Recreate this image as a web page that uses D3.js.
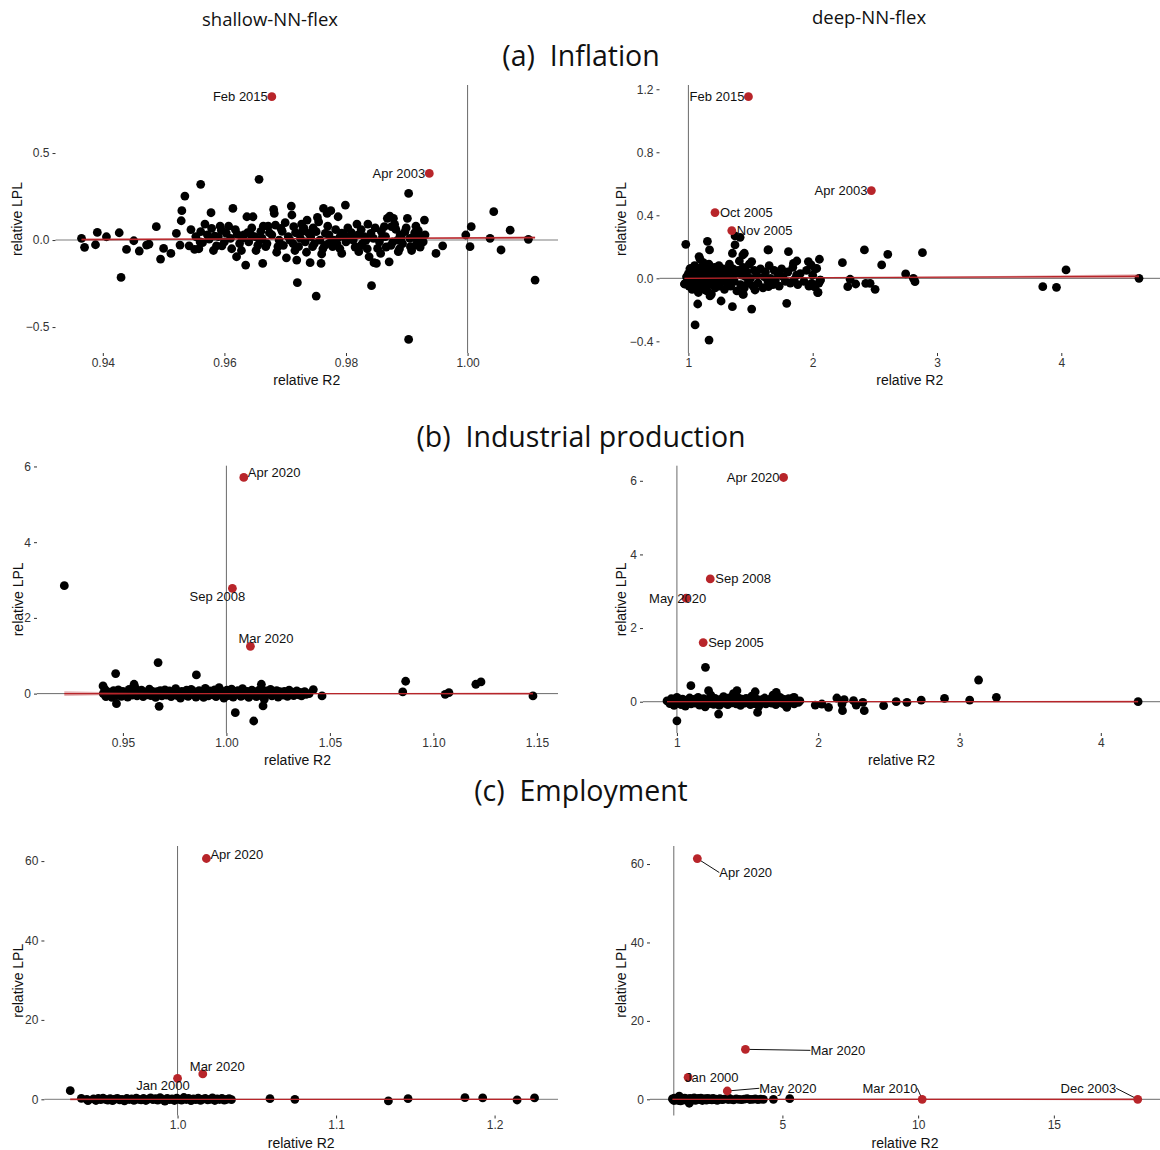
<!DOCTYPE html>
<html><head><meta charset="utf-8">
<script src="https://cdn.jsdelivr.net/npm/d3@7"></script>
<style>body{margin:0;background:#fff}svg{display:block}</style>
</head><body>
<svg id="c" width="1160" height="1150"></svg>
<script>
// ---------------- DATA ----------------
const columnTitles = ["shallow-NN-flex", "deep-NN-flex"];
const rowTitles = ["(a)\u00a0\u00a0Inflation", "(b)\u00a0\u00a0Industrial production", "(c)\u00a0\u00a0Employment"];
const xTitle = "relative R2";
const yTitle = "relative LPL";

// (a) Inflation, shallow-NN-flex: [relative R2, relative LPL]
const inflShallowPts = [
[0.9365,0.01],[0.9370,-0.042],[0.9388,-0.027],[0.9391,0.044],[0.9406,0.019],[0.9427,0.042],[0.9430,-0.215],[0.9439,-0.054],
[0.9451,-0.004],[0.9460,-0.063],[0.9472,-0.029],[0.9476,-0.023],[0.9488,0.077],[0.9495,-0.109],[0.9500,-0.048],[0.9512,-0.077],
[0.9521,0.038],[0.9527,-0.029],[0.9529,0.111],[0.9530,0.169],[0.9535,0.253],[0.9542,-0.033],[0.9551,-0.054],[0.9561,0.320],
[0.9561,0.048],[0.9564,-0.015],[0.9568,0.092],[0.9578,0.157],[0.9579,0.067],[0.9584,0.023],[0.9587,-0.033],[0.9595,0.057],
[0.9596,-0.033],[0.9607,0.080],[0.9614,0.182],[0.9620,-0.096],[0.9621,0.034],[0.9629,0.010],[0.9635,-0.144],[0.9637,0.134],
[0.9638,0.042],[0.9643,0.034],[0.9647,0.134],[0.9657,0.349],[0.9658,0.000],[0.9663,-0.134],[0.9664,0.080],[0.9668,-0.038],
[0.9674,0.042],[0.9681,0.176],[0.9682,0.153],[0.9684,0.086],[0.9688,-0.038],[0.9693,0.067],[0.9702,-0.102],[0.9708,0.000],
[0.9710,0.195],[0.9711,0.144],[0.9714,0.077],[0.9717,0.042],[0.9719,-0.115],[0.9720,-0.245],[0.9722,-0.038],[0.9727,0.092],
[0.9731,0.067],[0.9736,0.115],[0.9739,0.038],[0.9741,-0.130],[0.9745,-0.038],[0.9751,0.048],[0.9751,-0.322],[0.9753,0.130],
[0.9755,0.105],[0.9759,-0.134],[0.9760,-0.080],[0.9763,0.182],[0.9766,0.038],[0.9769,0.153],[0.9772,-0.019],[0.9775,0.169],
[0.9778,-0.038],[0.9787,0.134],[0.9790,0.019],[0.9793,-0.077],[0.9796,0.034],[0.9799,0.201],[0.9806,0.019],[0.9809,0.042],
[0.9818,0.092],[0.9821,-0.067],[0.9824,-0.034],[0.9830,0.019],[0.9836,0.092],[0.9838,-0.096],[0.9841,0.038],[0.9842,-0.262],
[0.9846,-0.130],[0.9850,-0.134],[0.9852,-0.048],[0.9857,-0.077],[0.9860,0.019],[0.9863,0.077],[0.9868,0.125],[0.9871,-0.125],
[0.9872,0.138],[0.9875,0.077],[0.9878,0.125],[0.9882,0.061],[0.9886,-0.067],[0.9889,0.029],[0.9891,0.015],[0.9897,0.048],
[0.9901,0.125],[0.9903,0.268],[0.9903,-0.571],[0.9906,-0.038],[0.9911,0.019],[0.9913,0.042],[0.9915,-0.029],[0.9919,0.054],
[0.9924,0.023],[0.9929,0.115],[0.9948,-0.077],[0.9959,-0.033],[0.9997,0.029],[1.0004,-0.038],[1.0006,0.077],[1.0037,0.010],
[1.0043,0.163],[1.0055,-0.057],[1.0070,0.057],[1.0100,0.004],[1.0111,-0.230],
[0.9553,0.02],[0.9560,-0.01],[0.9575,0.005],[0.9590,0.02],[0.9600,-0.01],[0.9610,0.01],[0.9625,-0.02],[0.9632,0.03],
[0.9640,-0.01],[0.9650,0.02],[0.9655,-0.03],[0.9662,0.01],[0.9670,-0.02],[0.9678,0.03],[0.9690,0.00],[0.9697,-0.03],
[0.9705,0.02],[0.9713,-0.02],[0.9725,0.01],[0.9733,-0.01],[0.9742,0.02],[0.9748,-0.02],[0.9757,0.00],[0.9765,-0.03],
[0.9772,0.03],[0.9780,0.00],[0.9785,-0.02],[0.9793,0.04],[0.9800,-0.01],[0.9812,0.00],[0.9820,0.03],[0.9827,-0.02],
[0.9833,0.00],[0.9845,0.01],[0.9855,-0.01],[0.9865,0.02],[0.9877,-0.01],[0.9885,0.00],[0.9893,-0.02],[0.9905,0.01],
[0.9917,0.00],[0.9927,-0.01],
[0.9545,0.06],[0.9558,-0.05],[0.9572,0.03],[0.9582,-0.06],[0.9593,0.08],[0.9603,0.04],[0.9612,-0.05],[0.9618,0.06],
[0.9628,-0.06],[0.9645,0.07],[0.9652,-0.06],[0.9660,0.05],[0.9672,0.08],[0.9686,-0.07],[0.9695,0.05],[0.9700,0.10],
[0.9716,-0.06],[0.9728,0.05],[0.9735,-0.07],[0.9746,0.07],[0.9762,-0.05],[0.9770,0.08],[0.9783,0.06],[0.9790,-0.05],
[0.9803,0.07],[0.9815,-0.04],[0.9825,0.06],[0.9835,-0.05],[0.9848,0.07],[0.9858,0.05],[0.9866,-0.04],[0.9874,-0.03],
[0.9880,0.09],[0.9888,-0.05],[0.9899,0.07],[0.9908,-0.06],[0.9915,0.08],[0.9922,-0.04],[0.9930,0.03]
];
const inflShallowHi = [["Feb 2015",0.9678,0.824],["Apr 2003",0.9937,0.383]];

// (a) Inflation, deep-NN-flex
const inflDeepPts = [
[0.979,0.216],[1.153,0.235],[1.075,-0.163],[1.054,-0.296],[1.166,-0.392],[1.094,0.121],[1.375,0.269],[1.416,0.26],
[1.375,0.212],[1.354,0.159],[1.45,0.159],[1.509,0.106],[1.644,0.18],[1.805,0.169],[1.872,0.11],[1.845,0.095],
[1.965,0.106],[1.987,0.085],[2.054,0.121],[2.032,0.063],[2.019,-0.053],[2.04,-0.091],[2.059,-0.011],[1.992,-0.032],
[2.239,0.099],[2.301,-0.006],[2.282,-0.053],[2.346,-0.036],[2.416,0.18],[2.427,-0.032],[2.462,-0.032],[2.502,-0.07],
[2.555,0.085],[2.604,0.152],[2.748,0.028],[2.81,0.0],[2.823,-0.021],[2.883,0.163],[1.263,-0.144],[1.354,-0.18],
[1.509,-0.195],[1.791,-0.159],[1.442,-0.102],[1.536,-0.074],[1.644,-0.053],[1.174,-0.112],[1.134,-0.074],[1.032,-0.042],
[0.968,-0.036],[3.851,-0.053],[3.961,-0.057],[4.038,0.053],[4.625,0.0],[1.02,0.063],[1.086,0.138],[1.17,0.18],
[1.438,0.148],[1.64,0.18],[2.013,-0.053],[2.043,-0.089],[2.063,-0.011],[1.438,-0.1],
[0.972,-0.035],[0.985,0.01],[0.99,-0.02],[1.0,0.03],[1.005,-0.05],[1.012,0.06],[1.02,-0.01],[1.025,0.02],[1.03,-0.07],
[1.04,0.04],[1.045,-0.03],[1.05,0.08],[1.058,0.0],[1.065,-0.05],[1.07,0.05],[1.08,-0.09],[1.085,0.02],[1.09,-0.02],
[1.1,0.07],[1.105,-0.04],[1.11,0.01],[1.12,0.1],[1.125,-0.06],[1.13,0.03],[1.14,-0.02],[1.145,0.06],[1.15,-0.08],
[1.16,0.0],[1.165,0.09],[1.17,-0.04],[1.18,0.04],[1.185,-0.1],[1.19,0.02],[1.2,-0.03],[1.21,0.07],[1.215,-0.06],
[1.22,0.01],[1.23,0.05],[1.24,-0.02],[1.245,0.08],[1.25,-0.05],[1.26,0.03],[1.27,-0.01],[1.28,0.06],[1.29,-0.07],
[1.3,0.02],[1.31,-0.03],[1.32,0.04],[1.33,0.09],[1.34,-0.05],[1.35,0.0],[1.36,0.06],[1.37,-0.02],[1.38,0.03],
[1.39,-0.08],[1.4,0.05],[1.41,0.11],[1.42,-0.04],[1.43,0.02],[1.44,0.07],[1.45,-0.06],[1.46,0.01],[1.47,0.04],
[1.48,-0.03],[1.49,0.09],[1.5,0.0],[1.52,-0.05],[1.53,0.05],[1.55,0.02],[1.56,-0.03],[1.58,0.06],[1.6,-0.06],
[1.61,0.01],[1.62,0.04],[1.64,-0.02],[1.65,0.08],[1.66,0.0],[1.68,-0.04],[1.69,0.05],[1.7,-0.01],[1.72,0.03],
[1.73,-0.05],[1.75,0.06],[1.76,0.01],[1.78,-0.02],[1.8,0.04],[1.82,-0.03],[1.84,0.07],[1.85,-0.01],[1.87,0.02],
[1.88,-0.04],[1.9,0.03],[1.93,-0.02],[1.95,0.05],[1.97,-0.05],[2.0,0.02],[2.02,0.06],[2.05,-0.03]
];
const inflDeepHi = [["Feb 2015",1.483,1.153],["Apr 2003",2.472,0.557],["Oct 2005",1.214,0.417],["Nov 2005",1.349,0.303]];

// (b) Industrial production, shallow-NN-flex
const ipShallowPts = [
[0.9217,2.85],[0.9404,0.203],[0.9465,0.529],[0.9469,-0.265],[0.967,0.82],[0.9675,-0.335],[0.9855,0.494],[1.0043,-0.503],
[1.0132,-0.723],[1.0169,0.247],[1.0177,-0.326],[0.9554,0.247],[1.0462,-0.062],[1.042,0.106],[1.0852,0.044],[1.0866,0.327],
[1.1057,-0.018],[1.1075,0.026],[1.1205,0.247],[1.123,0.309],[1.1481,-0.062],
[0.9405,0.0],[0.9412,0.12],[0.9418,-0.08],[0.9425,0.05],[0.9433,-0.04],[0.944,0.02],[0.9447,-0.1],[0.9455,0.08],[0.9462,0.0],
[0.947,-0.05],[0.9478,0.1],[0.9485,0.03],[0.9493,-0.07],[0.95,0.06],[0.9508,-0.02],[0.9515,0.02],[0.9523,-0.09],[0.953,0.11],
[0.9538,0.0],[0.9545,-0.04],[0.9553,0.07],[0.956,0.15],[0.9568,-0.06],[0.9575,0.03],[0.9583,-0.01],[0.959,0.09],[0.9598,-0.08],
[0.9605,0.04],[0.9613,0.0],[0.962,-0.03],[0.9628,0.12],[0.9635,-0.05],[0.9643,0.06],[0.965,0.01],[0.9658,-0.1],[0.9665,0.05],
[0.9673,-0.02],[0.968,0.08],[0.9688,-0.06],[0.9695,0.02],[0.9703,0.1],[0.971,-0.04],[0.9718,0.0],[0.9725,0.07],[0.9733,-0.08],
[0.974,0.03],[0.9748,-0.01],[0.9755,0.13],[0.9763,-0.05],[0.977,0.04],[0.9778,-0.12],[0.9785,0.06],[0.9793,0.0],[0.98,-0.03],
[0.9808,0.09],[0.9815,-0.07],[0.9823,0.02],[0.983,0.11],[0.9838,-0.02],[0.9845,0.05],[0.9853,-0.09],[0.986,0.01],[0.9868,0.08],
[0.9875,-0.04],[0.9883,0.03],[0.989,-0.1],[0.9898,0.14],[0.9905,0.0],[0.9913,-0.06],[0.992,0.07],[0.9928,0.02],[0.9935,-0.03],
[0.9943,0.1],[0.995,-0.08],[0.9958,0.04],[0.9965,0.16],[0.9973,-0.01],[0.998,0.06],[0.9988,-0.12],[0.9995,0.03],[1.0003,0.09],
[1.001,-0.05],[1.0018,0.01],[1.0025,0.12],[1.0033,-0.09],[1.004,0.05],[1.0048,-0.02],[1.0055,0.08],[1.0063,0.0],[1.007,-0.07],
[1.0078,0.13],[1.0085,0.03],[1.0093,-0.04],[1.01,0.06],[1.0108,-0.1],[1.0115,0.02],[1.0123,0.09],[1.013,-0.03],[1.0138,0.05],
[1.0145,-0.08],[1.0153,0.0],[1.016,0.1],[1.0168,-0.05],[1.0175,0.04],[1.0183,-0.15],[1.019,0.07],[1.0198,-0.02],[1.0205,0.02],
[1.0213,0.11],[1.022,-0.06],[1.0228,0.03],[1.0235,-0.01],[1.0243,0.08],[1.025,-0.09],[1.0258,0.05],[1.0265,0.0],[1.0273,-0.04],
[1.028,0.06],[1.0288,0.02],[1.0295,-0.07],[1.0303,0.09],[1.031,-0.02],[1.0318,0.04],[1.0325,-0.05],[1.0333,0.01],[1.034,0.07],
[1.0348,-0.03],[1.0355,0.03],[1.0363,-0.06],[1.037,0.02],[1.0378,0.05],[1.0385,-0.02],[1.04,0.0]
];
const ipShallowHi = [["Apr 2020",1.0084,5.71],["Sep 2008",1.0029,2.78],["Mar 2020",1.0116,1.25]];

// (b) Industrial production, deep-NN-flex
const ipDeepPts = [
[1.0,-0.52],[1.099,0.435],[1.224,0.3],[1.295,-0.335],[1.425,0.3],[1.554,0.27],[1.571,-0.29],[1.703,0.254],[1.83,0.118],
[1.778,-0.154],[1.979,-0.091],[2.026,-0.063],[2.073,-0.154],[2.132,0.1],[2.172,-0.245],[2.168,-0.063],[2.184,0.054],
[2.25,0.027],[2.269,-0.091],[2.326,-0.245],[2.316,-0.018],[2.463,-0.109],[2.552,0.0],[2.628,-0.018],[2.729,0.045],
[2.894,0.09],[3.072,0.045],[3.135,0.589],[3.261,0.118],[4.264,0.0],[1.202,0.934],
[0.93,0.02],[0.95,-0.05],[0.96,0.08],[0.97,0.0],[0.98,-0.1],[0.99,0.05],[1.0,0.12],[1.01,-0.03],[1.02,0.03],[1.03,-0.08],
[1.04,0.07],[1.05,0.0],[1.06,-0.12],[1.07,0.04],[1.08,-0.02],[1.09,0.1],[1.1,-0.06],[1.11,0.02],[1.12,0.06],[1.13,-0.04],
[1.14,0.0],[1.15,0.12],[1.16,-0.09],[1.17,0.03],[1.18,-0.02],[1.19,0.08],[1.2,-0.14],[1.21,0.05],[1.22,0.0],[1.23,-0.05],
[1.24,0.18],[1.25,0.02],[1.26,-0.07],[1.27,0.09],[1.28,-0.01],[1.29,0.04],[1.3,-0.1],[1.31,0.06],[1.32,0.0],[1.33,0.14],
[1.34,-0.04],[1.35,0.03],[1.36,-0.08],[1.37,0.1],[1.38,0.01],[1.39,-0.03],[1.4,0.22],[1.41,0.05],[1.42,-0.06],[1.43,0.12],
[1.44,0.0],[1.45,-0.1],[1.46,0.07],[1.47,0.02],[1.48,-0.04],[1.49,0.09],[1.5,-0.02],[1.51,0.04],[1.52,-0.08],[1.53,0.15],
[1.54,0.01],[1.55,-0.05],[1.56,0.08],[1.57,0.0],[1.58,-0.12],[1.59,0.05],[1.6,0.02],[1.61,-0.03],[1.62,0.1],[1.63,-0.06],
[1.64,0.03],[1.65,0.0],[1.66,0.07],[1.67,-0.04],[1.68,0.18],[1.69,0.02],[1.7,-0.08],[1.71,0.05],[1.72,-0.02],[1.73,0.12],
[1.74,0.0],[1.75,-0.05],[1.76,0.06],[1.77,-0.1],[1.78,0.03],[1.79,0.08],[1.8,-0.03],[1.81,0.01],[1.82,0.1],[1.83,-0.06],
[1.84,0.04],[1.86,-0.02],[1.87,0.02]
];
const ipDeepHi = [["Apr 2020",1.755,6.09],["Sep 2008",1.236,3.336],["May 2020",1.065,2.81],["Sep 2005",1.186,1.605]];

// (c) Employment, shallow-NN-flex
const empShallowPts = [
[0.9323,2.18],[0.9393,0.25],[0.9428,0.0],[0.9435,-0.34],[1.0583,0.17],[1.074,0.0],[1.133,-0.42],[1.1454,0.17],
[1.1813,0.42],[1.1925,0.34],[1.2142,-0.17],[1.2252,0.34],
[0.947,0.1],[0.9485,-0.3],[0.95,0.2],[0.9515,-0.1],[0.953,0.3],[0.9545,0.0],[0.956,-0.2],[0.9575,0.15],[0.959,-0.35],
[0.9605,0.05],[0.962,0.25],[0.9635,-0.15],[0.965,0.0],[0.9665,-0.4],[0.968,0.2],[0.9695,-0.05],[0.971,0.1],[0.9725,-0.25],
[0.974,0.3],[0.9755,0.0],[0.977,-0.15],[0.9785,0.2],[0.98,-0.3],[0.9815,0.05],[0.983,0.35],[0.9845,-0.1],[0.986,0.15],
[0.9875,-0.2],[0.989,0.4],[0.9905,0.0],[0.992,-0.45],[0.9935,0.25],[0.995,-0.1],[0.9965,0.1],[0.998,-0.3],[0.9995,0.3],
[1.001,0.0],[1.0025,-0.2],[1.004,0.45],[1.0055,-0.05],[1.007,0.2],[1.0085,-0.35],[1.01,0.1],[1.0115,-0.1],[1.013,0.3],
[1.0145,-0.25],[1.016,0.05],[1.0175,0.2],[1.019,-0.15],[1.0205,0.0],[1.022,0.35],[1.0235,-0.3],[1.025,0.1],[1.0265,-0.05],
[1.028,0.25],[1.0295,-0.2],[1.031,0.0],[1.0325,0.15],[1.034,-0.1]
];
const empShallowHi = [["Apr 2020",1.0182,60.65],["Mar 2020",1.0159,6.38],["Jan 2000",1.0,5.29]];

// (c) Employment, deep-NN-flex
const empDeepPts = [
[0.95,0.1],[0.97,0.0],[1.0,-0.3],[1.02,0.3],[1.05,0.2],[1.08,-0.2],[1.1,-0.1],[1.12,0.1],[1.15,0.4],[1.18,-0.3],[1.2,0.0],
[1.22,0.2],[1.25,-0.4],[1.28,0.0],[1.3,0.15],[1.32,-0.1],[1.35,-0.2],[1.38,0.25],[1.4,0.3],[1.45,-0.05],[1.5,0.1],[1.55,-0.35],
[1.57,-1.0],[1.2,0.8],[1.6,0.25],[1.65,0.0],[1.7,-0.15],[1.75,0.35],[1.8,-0.25],[1.85,0.05],[1.9,0.2],[1.95,-0.1],[2.0,0.3],
[2.05,-0.3],[2.1,0.0],[2.15,0.15],[2.2,-0.2],[2.25,0.25],[2.3,-0.05],[2.35,0.1],[2.4,-0.15],[2.45,0.2],[2.5,-0.1],[2.55,0.05],
[2.6,-0.25],[2.7,0.15],[2.75,0.0],[2.8,-0.1],[2.9,0.1],[3.0,-0.05],[3.05,0.2],[3.1,0.0],[3.2,-0.15],[3.3,0.1],[3.4,0.0],
[3.5,-0.1],[3.6,0.05],[3.7,0.15],[3.8,-0.05],[3.9,0.0],[4.0,0.1],[4.1,-0.1],[4.2,0.05],[4.3,0.0],[4.67,0.0],[5.27,0.17]
];
const empDeepHi = [["Apr 2020",1.867,61.4],["Mar 2020",3.638,12.74],["Jan 2000",1.526,5.6],["May 2020",2.97,2.12],["Mar 2010",10.15,0],["Dec 2003",18.09,0]];

// fitted line (value at min R2, value at max R2) and band half-width (left, centre, right)
const fitEnds = [[0.003,0.014],[0.0,0.013],[0,0],[0,0],[0,0],[0,0]];
const fitBand = [[0.009,0.003,0.009],[0.004,0.002,0.013],[0.06,0.01,0.03],[0.02,0.005,0.03],[0.3,0.05,0.2],[0.2,0.05,0.3]];

// axis ticks
const xTicksList = [[0.94,0.96,0.98,1.00],[1,2,3,4],[0.95,1.00,1.05,1.10,1.15],[1,2,3,4],[1.0,1.1,1.2],[5,10,15]];
const yTicksList = [[-0.5,0,0.5],[-0.4,0,0.4,0.8,1.2],[0,2,4,6],[0,2,4,6],[0,20,40,60],[0,20,40,60]];

// ---------------- LAYOUT ----------------
const layout = [
 {pts:inflShallowPts, hi:inflShallowHi, box:[55.5,85,558,353], xd:[0.93222,1.01487], yd:[-0.649,0.891], xf:".2f", yf:".1f", ylabX:22, hc:"#a8a8a8", hw:1.6,
  lab:[["end",-4,4.5,0],["end",-4,4.5,0]]},
 {pts:inflDeepPts, hi:inflDeepHi, box:[659.5,85,1160,353], xd:[0.7675,4.794], yd:[-0.474,1.227], xf:"d", yf:".1f", ylabX:626, hc:"#6a6a6a", hw:1,
  lab:[["end",-4,4.5,0],["end",-4,4.5,0],["start",5,4.5,0],["start",5,4.5,0]]},
 {pts:ipShallowPts, hi:ipShallowHi, box:[37,465.7,558,733], xd:[0.9085,1.1602], yd:[-1.04,6.02], xf:".2f", yf:"d", ylabX:23, hc:"#6a6a6a", hw:1,
  lab:[["start",4,-0.5,0],["middle",-15,12.5,0],["middle",15.5,-3.5,0]]},
 {pts:ipDeepPts, hi:ipDeepHi, box:[643,465.7,1160,733], xd:[0.76,4.419], yd:[-0.85,6.41], xf:"d", yf:"d", ylabX:626, hc:"#6a6a6a", hw:1,
  lab:[["end",-4,4.5,0],["start",5,4.5,0],["middle",-8.5,4.5,0],["start",5,4.5,0]]},
 {pts:empShallowPts, hi:empShallowHi, box:[44.4,846,558,1115.5], xd:[0.916,1.24], yd:[-4.08,63.8], xf:".1f", yf:"d", ylabX:23, hc:"#7a7a7a", hw:1,
  lab:[["start",4,0.5,0],["middle",14.5,-2.5,0],["middle",-14.5,11.5,0]]},
 {pts:empDeepPts, hi:empDeepHi, box:[650,846,1160,1115.5], xd:[0.123,18.91], yd:[-4.13,64.6], xf:"d", yf:"d", ylabX:626, hc:"#6a6a6a", hw:1,
  lab:[["start",22,18.5,1],["start",65,5.5,1],["start",-3,4.9,0],["start",32,1.8,1],["end",-4.8,-6.5,1],["end",-21.5,-6.5,1]]}
];
const rowTitleY = [66, 447, 801];
const colTitlePos = [[270,26],[869,24]];

// ---------------- DRAW ----------------
const RED = "#b8252a";
const R = 4.4;
const svg = d3.select("#c");
const TICKFONT = "'Liberation Sans', Arial, sans-serif";

svg.selectAll("text.col").data(columnTitles).join("text").attr("class","col")
  .attr("x",(d,i)=>colTitlePos[i][0]).attr("y",(d,i)=>colTitlePos[i][1])
  .attr("text-anchor","middle").attr("font-family","'Open Sans', sans-serif").attr("font-size",18.5).attr("fill","#111").text(d=>d);
svg.selectAll("text.row").data(rowTitles).join("text").attr("class","row")
  .attr("x",581).attr("y",(d,i)=>rowTitleY[i])
  .attr("text-anchor","middle").attr("font-family","'Open Sans', sans-serif").attr("font-size",28.5).attr("fill","#111").text(d=>d);

layout.forEach((p, pi) => {
  const [L,T,Rr,B] = p.box;
  const x = d3.scaleLinear().domain(p.xd).range([L,Rr]);
  const y = d3.scaleLinear().domain(p.yd).range([B,T]);
  const g = svg.append("g");

  // reference lines
  g.append("line").attr("x1",L).attr("x2",Rr).attr("y1",y(0)).attr("y2",y(0)).attr("stroke",p.hc).attr("stroke-width",p.hw);
  g.append("line").attr("x1",x(1)).attr("x2",x(1)).attr("y1",T).attr("y2",B).attr("stroke","#6a6a6a").attr("stroke-width",1);

  // black points
  g.append("g").selectAll("circle").data(p.pts).join("circle")
    .attr("cx",d=>x(d[0])).attr("cy",d=>y(d[1])).attr("r",R).attr("fill","#000");

  // fitted line with band
  const all = p.pts.concat(p.hi.map(h=>[h[1],h[2]]));
  const [xmin,xmax] = d3.extent(all, d=>d[0]);
  const [f0,f1] = fitEnds[pi];
  const [b0,bc,b1] = fitBand[pi];
  const fy = v => f0 + (f1-f0)*(v-xmin)/(xmax-xmin);
  const bandPts = [[xmin,b0],[d3.mean(p.pts,d=>d[0]),bc],[xmax,b1]].sort((a,b)=>a[0]-b[0]);
  const area = d3.area().curve(d3.curveMonotoneX)
    .x(d=>x(d[0])).y0(d=>y(fy(d[0])-d[1])).y1(d=>y(fy(d[0])+d[1]));
  g.append("path").attr("d",area(bandPts)).attr("fill",RED).attr("fill-opacity",0.35);
  g.append("line").attr("x1",x(xmin)).attr("x2",x(xmax)).attr("y1",y(fy(xmin))).attr("y2",y(fy(xmax)))
    .attr("stroke",RED).attr("stroke-width",1.3);

  // leader lines
  p.hi.forEach((h,i)=>{
    const [anc,dx,dy,lead] = p.lab[i];
    if(lead){
      g.append("line").attr("x1",x(h[1])).attr("y1",y(h[2])).attr("x2",x(h[1])+dx).attr("y2",y(h[2])+dy-4.5)
        .attr("stroke","#111").attr("stroke-width",1);
    }
  });
  // highlighted points
  g.append("g").selectAll("circle").data(p.hi).join("circle")
    .attr("cx",d=>x(d[1])).attr("cy",d=>y(d[2])).attr("r",R).attr("fill",RED);
  // labels
  g.append("g").selectAll("text").data(p.hi).join("text")
    .attr("x",(d,i)=>x(d[1])+p.lab[i][1]).attr("y",(d,i)=>y(d[2])+p.lab[i][2])
    .attr("text-anchor",(d,i)=>p.lab[i][0])
    .attr("font-family",TICKFONT).attr("font-size",13).attr("fill","#111").text(d=>d[0]);

  // axes
  const xa = d3.axisBottom(x).tickValues(xTicksList[pi]).tickFormat(d3.format(p.xf)).tickSize(3).tickPadding(2);
  const ya = d3.axisLeft(y).tickValues(yTicksList[pi]).tickFormat(d3.format(p.yf)).tickSize(3).tickPadding(3);
  const gx = g.append("g").attr("transform",`translate(0,${B})`).call(xa);
  const gy = g.append("g").attr("transform",`translate(${L},0)`).call(ya);
  [gx,gy].forEach(a=>{
    a.select(".domain").remove();
    a.selectAll(".tick line").attr("stroke","#333");
    a.selectAll(".tick text").attr("fill","#333").attr("font-family",TICKFONT).attr("font-size",12);
  });

  // axis titles
  g.append("text").attr("x",(L+Rr)/2).attr("y",B+32).attr("text-anchor","middle")
    .attr("font-family",TICKFONT).attr("font-size",14).attr("fill","#111").text(xTitle);
  g.append("text").attr("transform",`translate(${p.ylabX},${(T+B)/2}) rotate(-90)`).attr("text-anchor","middle")
    .attr("font-family",TICKFONT).attr("font-size",14).attr("fill","#111").text(yTitle);
});
</script>
</body></html>
